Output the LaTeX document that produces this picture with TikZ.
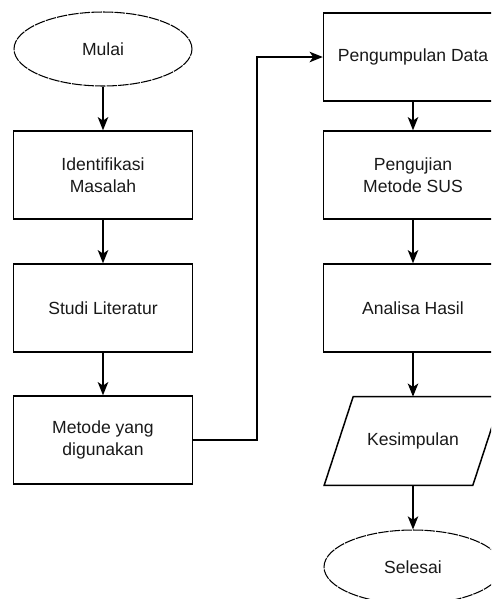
\documentclass[tikz,border=0pt]{standalone}
\usepackage{fontspec}
\setmainfont{Liberation Sans}
\usepackage{tikz}
\usetikzlibrary{shapes.geometric,arrows.meta,positioning,calc}

\begin{document}
\begin{tikzpicture}[x=.02cm, y=-.02cm,
    every node/.append style={font=\fontsize{10}{12.5}\selectfont, text=black!90,
                              align=center, inner sep=0pt},
    flowbox/.style={draw, line width=.85pt, rectangle, minimum width=3.58cm, minimum height=1.76cm},
    terminal/.style={draw, line width=.6pt, ellipse, dash pattern=on 6pt off .6pt,
                     minimum width=3.56cm, minimum height=1.48cm},
    iobox/.style={rectangle, minimum width=3.54cm, minimum height=1.76cm},
    flow/.style={-{Stealth[length=7.5pt,width=6pt,inset=2pt]}, line width=.85pt}]
    \path[use as bounding box, clip] (0,0) rectangle (491,599);

    % left column
    \node[terminal] (mulai)  at (103,49)  {Mulai};
    \node[flowbox]  (ident)  at (103,175) {Identifikasi\\Masalah};
    \node[flowbox]  (studi)  at (103,308) {Studi Literatur};
    \node[flowbox]  (metode) at (103,440) {Metode yang\\digunakan};

    % right column
    \node[flowbox]  (kumpul) at (413,57)  {Pengumpulan Data};
    \node[flowbox]  (uji)    at (413,175) {Pengujian\\Metode SUS};
    \node[flowbox]  (hasil)  at (413,308) {Analisa Hasil};
    \node[iobox]    (simpul) at (413,441) {Kesimpulan};
    \node[terminal] (selesai) at (413,567) {Selesai};

    % parallelogram round Kesimpulan
    \draw[line width=.85pt] (simpul.south west) -- ([xshift=-.58cm]simpul.south east)
        -- (simpul.north east) -- ([xshift=.58cm]simpul.north west) -- cycle;

    \coordinate (turn) at (257,440);

    \draw[flow] (mulai) -- (ident);
    \draw[flow] (ident) -- (studi);
    \draw[flow] (studi) -- (metode);
    \draw[flow] (metode.east) -- (turn) |- (kumpul.west);
    \draw[flow] (kumpul) -- (uji);
    \draw[flow] (uji) -- (hasil);
    \draw[flow] (hasil) -- (simpul);
    \draw[flow] (simpul) -- (selesai);
\end{tikzpicture}
\end{document}
